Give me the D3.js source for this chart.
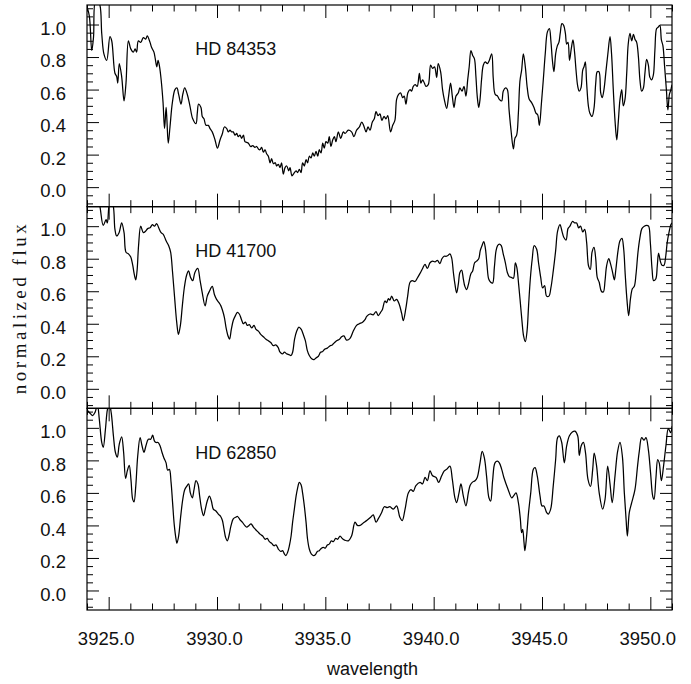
<!DOCTYPE html>
<html>
<head>
<meta charset="utf-8">
<script src="https://cdn.jsdelivr.net/npm/d3@7"></script>
<style>
  body { margin: 0; background: #fff; }
  svg { display: block; }
  .tick line { stroke: #000; }
</style>
</head>
<body>
<div id="chart"></div>
<script>
// star names, one per panel (top to bottom)
const stars = ["HD 84353", "HD 41700", "HD 62850"];

// tick values
const xMajorTicks = [3925, 3930, 3935, 3940, 3945, 3950];
const yMajorTicks = [0.0, 0.2, 0.4, 0.6, 0.8, 1.0];

// spectra: [wavelength, normalized flux]
const hd84353 = [[3924.00,1.11],[3924.11,1.05],[3924.22,0.84],[3924.30,0.92],[3924.40,1.15],[3924.57,1.13],[3924.68,0.945],[3924.78,0.82],[3924.91,0.78],[3925.06,0.925],[3925.14,0.90],[3925.29,0.70],[3925.37,0.68],[3925.42,0.64],[3925.49,0.76],[3925.60,0.68],[3925.71,0.53],[3925.80,0.64],[3925.91,0.90],[3926.02,0.85],[3926.14,0.83],[3926.22,0.85],[3926.29,0.83],[3926.37,0.90],[3926.48,0.89],[3926.60,0.92],[3926.71,0.91],[3926.78,0.93],[3926.91,0.89],[3926.98,0.86],[3927.09,0.83],[3927.15,0.79],[3927.22,0.74],[3927.28,0.78],[3927.35,0.74],[3927.43,0.65],[3927.51,0.52],[3927.58,0.36],[3927.65,0.49],[3927.69,0.41],[3927.75,0.27],[3927.83,0.37],[3927.94,0.52],[3928.06,0.60],[3928.15,0.61],[3928.23,0.57],[3928.34,0.51],[3928.42,0.57],[3928.51,0.61],[3928.63,0.57],[3928.75,0.50],[3928.88,0.42],[3929.03,0.39],[3929.09,0.455],[3929.15,0.51],[3929.26,0.49],[3929.32,0.435],[3929.40,0.42],[3929.49,0.38],[3929.60,0.38],[3929.68,0.36],[3929.78,0.34],[3929.91,0.29],[3930.02,0.24],[3930.14,0.29],[3930.25,0.33],[3930.34,0.37],[3930.45,0.36],[3930.52,0.34],[3930.60,0.35],[3930.68,0.34],[3930.75,0.34],[3930.83,0.32],[3930.91,0.33],[3930.98,0.31],[3931.06,0.32],[3931.14,0.30],[3931.22,0.32],[3931.29,0.28],[3931.37,0.275],[3931.45,0.27],[3931.55,0.25],[3931.65,0.255],[3931.75,0.245],[3931.83,0.25],[3931.91,0.235],[3931.98,0.23],[3932.06,0.245],[3932.14,0.215],[3932.22,0.23],[3932.29,0.205],[3932.37,0.19],[3932.45,0.15],[3932.52,0.175],[3932.60,0.145],[3932.69,0.15],[3932.75,0.13],[3932.83,0.14],[3932.91,0.12],[3932.98,0.15],[3933.06,0.08],[3933.14,0.12],[3933.22,0.13],[3933.31,0.10],[3933.37,0.12],[3933.46,0.07],[3933.55,0.085],[3933.65,0.10],[3933.72,0.09],[3933.80,0.11],[3933.88,0.09],[3933.95,0.15],[3934.03,0.13],[3934.11,0.17],[3934.18,0.15],[3934.26,0.19],[3934.34,0.18],[3934.42,0.21],[3934.49,0.19],[3934.57,0.22],[3934.65,0.19],[3934.72,0.23],[3934.80,0.21],[3934.88,0.27],[3934.95,0.24],[3935.03,0.28],[3935.11,0.27],[3935.18,0.31],[3935.26,0.25],[3935.34,0.29],[3935.42,0.31],[3935.49,0.28],[3935.60,0.34],[3935.71,0.30],[3935.83,0.34],[3935.91,0.33],[3936.06,0.35],[3936.21,0.34],[3936.32,0.31],[3936.44,0.35],[3936.57,0.37],[3936.68,0.40],[3936.78,0.375],[3936.88,0.34],[3936.97,0.37],[3937.06,0.35],[3937.17,0.40],[3937.26,0.42],[3937.34,0.465],[3937.43,0.44],[3937.52,0.45],[3937.61,0.41],[3937.71,0.435],[3937.80,0.42],[3937.88,0.44],[3938.01,0.34],[3938.11,0.38],[3938.21,0.41],[3938.29,0.54],[3938.38,0.57],[3938.47,0.58],[3938.57,0.55],[3938.64,0.56],[3938.72,0.51],[3938.81,0.58],[3938.91,0.60],[3938.98,0.59],[3939.06,0.62],[3939.15,0.63],[3939.24,0.62],[3939.34,0.70],[3939.41,0.64],[3939.49,0.66],[3939.57,0.64],[3939.64,0.62],[3939.75,0.63],[3939.86,0.75],[3939.95,0.73],[3940.04,0.74],[3940.14,0.675],[3940.21,0.76],[3940.32,0.71],[3940.41,0.60],[3940.49,0.54],[3940.60,0.485],[3940.69,0.56],[3940.78,0.64],[3940.86,0.56],[3940.94,0.49],[3941.03,0.56],[3941.14,0.58],[3941.21,0.61],[3941.31,0.59],[3941.40,0.62],[3941.49,0.56],[3941.57,0.66],[3941.64,0.74],[3941.72,0.84],[3941.80,0.81],[3941.88,0.79],[3941.95,0.68],[3942.01,0.56],[3942.08,0.49],[3942.14,0.54],[3942.21,0.66],[3942.29,0.75],[3942.38,0.77],[3942.48,0.76],[3942.57,0.78],[3942.68,0.82],[3942.75,0.67],[3942.84,0.57],[3942.95,0.56],[3943.03,0.54],[3943.14,0.53],[3943.21,0.59],[3943.32,0.61],[3943.40,0.60],[3943.48,0.475],[3943.57,0.35],[3943.68,0.235],[3943.75,0.30],[3943.83,0.32],[3943.91,0.455],[3943.98,0.65],[3944.06,0.72],[3944.14,0.82],[3944.23,0.74],[3944.32,0.61],[3944.41,0.54],[3944.52,0.52],[3944.63,0.49],[3944.72,0.455],[3944.80,0.445],[3944.88,0.38],[3944.97,0.51],[3945.06,0.66],[3945.15,0.82],[3945.25,0.955],[3945.34,0.975],[3945.41,0.90],[3945.48,0.78],[3945.55,0.71],[3945.63,0.82],[3945.71,0.87],[3945.78,0.89],[3945.84,0.945],[3945.92,1.005],[3946.00,0.995],[3946.08,0.945],[3946.14,0.88],[3946.20,0.89],[3946.27,0.78],[3946.35,0.85],[3946.43,0.905],[3946.51,0.82],[3946.57,0.72],[3946.65,0.62],[3946.72,0.59],[3946.80,0.61],[3946.88,0.72],[3946.94,0.74],[3947.00,0.77],[3947.06,0.64],[3947.14,0.50],[3947.21,0.455],[3947.31,0.435],[3947.40,0.485],[3947.48,0.64],[3947.55,0.71],[3947.63,0.71],[3947.71,0.58],[3947.78,0.55],[3947.86,0.60],[3947.95,0.71],[3948.04,0.82],[3948.14,0.925],[3948.21,0.82],[3948.29,0.60],[3948.37,0.41],[3948.45,0.29],[3948.52,0.40],[3948.60,0.54],[3948.68,0.60],[3948.75,0.50],[3948.83,0.54],[3948.91,0.70],[3948.98,0.88],[3949.06,0.945],[3949.14,0.90],[3949.22,0.94],[3949.29,0.91],[3949.37,0.89],[3949.45,0.80],[3949.52,0.66],[3949.60,0.59],[3949.68,0.61],[3949.75,0.70],[3949.83,0.785],[3949.91,0.75],[3949.98,0.675],[3950.06,0.66],[3950.14,0.69],[3950.21,0.84],[3950.29,0.975],[3950.37,0.985],[3950.44,0.995],[3950.51,0.905],[3950.58,0.87],[3950.66,0.74],[3950.74,0.60],[3950.81,0.475],[3950.88,0.57],[3950.95,0.60],[3951.00,0.63]];

const hd41700 = [[3924.00,1.20],[3924.30,1.25],[3924.57,1.14],[3924.75,1.005],[3924.88,1.04],[3924.94,1.02],[3925.06,1.15],[3925.18,1.14],[3925.29,0.98],[3925.37,0.94],[3925.48,0.96],[3925.60,1.02],[3925.71,0.96],[3925.80,0.84],[3925.91,0.83],[3926.02,0.81],[3926.11,0.76],[3926.18,0.705],[3926.25,0.67],[3926.31,0.725],[3926.38,0.88],[3926.48,1.00],[3926.60,0.96],[3926.71,0.97],[3926.80,0.985],[3926.91,0.99],[3927.02,1.01],[3927.11,1.00],[3927.22,1.015],[3927.31,0.99],[3927.42,0.96],[3927.52,0.95],[3927.65,0.91],[3927.77,0.88],[3927.86,0.84],[3927.95,0.715],[3928.05,0.55],[3928.14,0.41],[3928.22,0.335],[3928.31,0.39],[3928.40,0.51],[3928.49,0.62],[3928.60,0.70],[3928.69,0.725],[3928.78,0.685],[3928.88,0.665],[3928.98,0.715],[3929.11,0.74],[3929.22,0.665],[3929.32,0.59],[3929.45,0.51],[3929.55,0.57],[3929.65,0.60],[3929.78,0.63],[3929.88,0.58],[3929.98,0.55],[3930.09,0.53],[3930.18,0.51],[3930.26,0.48],[3930.34,0.44],[3930.42,0.375],[3930.51,0.325],[3930.58,0.305],[3930.66,0.365],[3930.75,0.42],[3930.85,0.45],[3930.94,0.47],[3931.03,0.46],[3931.12,0.43],[3931.22,0.40],[3931.31,0.41],[3931.40,0.39],[3931.49,0.395],[3931.60,0.375],[3931.71,0.39],[3931.80,0.365],[3931.91,0.355],[3932.02,0.335],[3932.14,0.32],[3932.26,0.305],[3932.37,0.295],[3932.48,0.285],[3932.60,0.265],[3932.71,0.27],[3932.82,0.255],[3932.91,0.225],[3933.02,0.215],[3933.11,0.225],[3933.22,0.215],[3933.32,0.21],[3933.42,0.205],[3933.49,0.225],[3933.58,0.305],[3933.68,0.355],[3933.78,0.38],[3933.89,0.365],[3933.98,0.335],[3934.08,0.295],[3934.17,0.235],[3934.26,0.205],[3934.37,0.185],[3934.48,0.18],[3934.57,0.19],[3934.68,0.20],[3934.78,0.225],[3934.88,0.23],[3934.98,0.245],[3935.09,0.25],[3935.22,0.265],[3935.32,0.27],[3935.43,0.285],[3935.52,0.295],[3935.65,0.305],[3935.75,0.32],[3935.86,0.325],[3935.98,0.30],[3936.14,0.31],[3936.29,0.355],[3936.44,0.39],[3936.57,0.40],[3936.72,0.41],[3936.83,0.425],[3936.91,0.445],[3937.06,0.46],[3937.21,0.455],[3937.34,0.475],[3937.44,0.45],[3937.55,0.47],[3937.64,0.49],[3937.75,0.54],[3937.83,0.53],[3937.91,0.555],[3937.98,0.545],[3938.06,0.57],[3938.18,0.54],[3938.29,0.55],[3938.41,0.52],[3938.52,0.465],[3938.60,0.42],[3938.71,0.49],[3938.80,0.57],[3938.91,0.655],[3939.01,0.665],[3939.14,0.66],[3939.24,0.68],[3939.37,0.71],[3939.49,0.74],[3939.60,0.765],[3939.71,0.74],[3939.83,0.775],[3939.95,0.785],[3940.06,0.78],[3940.17,0.79],[3940.29,0.77],[3940.38,0.80],[3940.48,0.815],[3940.57,0.815],[3940.66,0.82],[3940.75,0.83],[3940.83,0.805],[3940.91,0.715],[3940.98,0.645],[3941.06,0.59],[3941.14,0.645],[3941.21,0.715],[3941.29,0.73],[3941.37,0.675],[3941.44,0.63],[3941.52,0.61],[3941.61,0.645],[3941.71,0.705],[3941.80,0.725],[3941.89,0.775],[3941.98,0.785],[3942.08,0.80],[3942.15,0.85],[3942.23,0.88],[3942.31,0.905],[3942.38,0.87],[3942.46,0.765],[3942.54,0.675],[3942.63,0.655],[3942.72,0.65],[3942.80,0.745],[3942.88,0.85],[3942.95,0.88],[3943.03,0.89],[3943.12,0.88],[3943.21,0.83],[3943.31,0.775],[3943.40,0.715],[3943.49,0.69],[3943.58,0.685],[3943.68,0.68],[3943.77,0.775],[3943.84,0.745],[3943.92,0.645],[3944.00,0.53],[3944.08,0.41],[3944.15,0.325],[3944.23,0.29],[3944.31,0.355],[3944.38,0.51],[3944.46,0.675],[3944.55,0.80],[3944.64,0.88],[3944.75,0.86],[3944.84,0.775],[3944.94,0.685],[3945.03,0.62],[3945.12,0.635],[3945.21,0.57],[3945.32,0.57],[3945.41,0.62],[3945.52,0.725],[3945.63,0.85],[3945.72,0.97],[3945.83,1.01],[3945.92,0.97],[3946.01,0.93],[3946.11,0.915],[3946.20,0.985],[3946.29,1.00],[3946.41,1.03],[3946.51,1.02],[3946.60,1.02],[3946.69,0.99],[3946.78,1.00],[3946.88,0.965],[3946.97,0.98],[3947.06,0.90],[3947.15,0.755],[3947.23,0.735],[3947.31,0.84],[3947.40,0.87],[3947.48,0.80],[3947.55,0.685],[3947.64,0.655],[3947.74,0.60],[3947.83,0.595],[3947.91,0.665],[3947.98,0.755],[3948.08,0.80],[3948.17,0.765],[3948.26,0.715],[3948.34,0.67],[3948.41,0.735],[3948.51,0.85],[3948.60,0.91],[3948.69,0.925],[3948.77,0.86],[3948.84,0.705],[3948.92,0.55],[3949.00,0.45],[3949.08,0.55],[3949.17,0.615],[3949.26,0.63],[3949.34,0.705],[3949.43,0.84],[3949.52,0.93],[3949.61,0.985],[3949.72,1.00],[3949.83,1.005],[3949.92,1.00],[3950.00,0.90],[3950.08,0.735],[3950.15,0.665],[3950.25,0.675],[3950.32,0.755],[3950.38,0.835],[3950.46,0.785],[3950.54,0.76],[3950.63,0.76],[3950.71,0.815],[3950.78,0.90],[3950.86,0.96],[3950.95,1.01],[3951.00,1.02]];

const hd62850 = [[3924.00,1.11],[3924.14,1.09],[3924.26,1.075],[3924.37,1.095],[3924.48,1.14],[3924.57,1.05],[3924.68,0.91],[3924.75,0.88],[3924.85,0.99],[3924.94,1.11],[3925.03,1.15],[3925.12,1.09],[3925.22,0.95],[3925.31,0.85],[3925.40,0.82],[3925.49,0.90],[3925.60,0.945],[3925.69,0.85],[3925.78,0.69],[3925.86,0.735],[3925.95,0.77],[3926.03,0.68],[3926.11,0.56],[3926.17,0.545],[3926.25,0.64],[3926.34,0.825],[3926.45,0.94],[3926.54,0.89],[3926.63,0.85],[3926.72,0.89],[3926.83,0.93],[3926.94,0.93],[3927.03,0.955],[3927.11,0.92],[3927.18,0.91],[3927.28,0.91],[3927.37,0.89],[3927.46,0.85],[3927.55,0.815],[3927.65,0.785],[3927.72,0.74],[3927.80,0.745],[3927.88,0.665],[3927.95,0.54],[3928.03,0.40],[3928.11,0.315],[3928.15,0.29],[3928.23,0.335],[3928.32,0.45],[3928.42,0.56],[3928.51,0.62],[3928.60,0.64],[3928.69,0.655],[3928.77,0.60],[3928.86,0.57],[3928.94,0.62],[3929.03,0.675],[3929.12,0.655],[3929.20,0.58],[3929.29,0.50],[3929.38,0.46],[3929.46,0.50],[3929.55,0.55],[3929.65,0.58],[3929.74,0.55],[3929.83,0.50],[3929.94,0.49],[3930.06,0.47],[3930.17,0.455],[3930.25,0.43],[3930.32,0.38],[3930.40,0.325],[3930.48,0.305],[3930.55,0.335],[3930.65,0.40],[3930.75,0.44],[3930.86,0.45],[3930.95,0.455],[3931.06,0.435],[3931.17,0.42],[3931.28,0.40],[3931.37,0.39],[3931.48,0.40],[3931.57,0.41],[3931.68,0.39],[3931.78,0.375],[3931.89,0.36],[3932.00,0.345],[3932.11,0.335],[3932.22,0.315],[3932.32,0.32],[3932.42,0.30],[3932.52,0.29],[3932.63,0.275],[3932.72,0.28],[3932.83,0.255],[3932.94,0.24],[3933.03,0.245],[3933.11,0.225],[3933.18,0.215],[3933.26,0.235],[3933.34,0.275],[3933.42,0.335],[3933.49,0.42],[3933.57,0.50],[3933.65,0.58],[3933.72,0.63],[3933.80,0.665],[3933.88,0.65],[3933.95,0.60],[3934.03,0.52],[3934.11,0.42],[3934.18,0.315],[3934.26,0.255],[3934.35,0.225],[3934.45,0.215],[3934.54,0.22],[3934.63,0.24],[3934.72,0.245],[3934.82,0.26],[3934.91,0.265],[3935.00,0.26],[3935.09,0.28],[3935.18,0.285],[3935.28,0.305],[3935.37,0.30],[3935.48,0.32],[3935.57,0.315],[3935.68,0.335],[3935.78,0.32],[3935.89,0.31],[3936.06,0.305],[3936.21,0.335],[3936.37,0.42],[3936.48,0.40],[3936.60,0.40],[3936.75,0.415],[3936.91,0.43],[3937.09,0.45],[3937.21,0.465],[3937.34,0.42],[3937.44,0.44],[3937.60,0.48],[3937.72,0.515],[3937.86,0.51],[3937.98,0.515],[3938.14,0.50],[3938.29,0.52],[3938.44,0.45],[3938.55,0.43],[3938.68,0.50],[3938.83,0.60],[3938.95,0.62],[3939.06,0.61],[3939.18,0.645],[3939.37,0.665],[3939.49,0.655],[3939.60,0.695],[3939.71,0.675],[3939.83,0.735],[3939.95,0.705],[3940.11,0.695],[3940.23,0.665],[3940.37,0.705],[3940.49,0.735],[3940.60,0.745],[3940.75,0.765],[3940.86,0.685],[3940.98,0.57],[3941.06,0.54],[3941.17,0.60],[3941.26,0.655],[3941.37,0.58],[3941.49,0.52],[3941.60,0.60],[3941.68,0.645],[3941.78,0.665],[3941.91,0.675],[3942.01,0.695],[3942.14,0.785],[3942.24,0.855],[3942.34,0.815],[3942.44,0.705],[3942.55,0.57],[3942.63,0.55],[3942.72,0.675],[3942.83,0.785],[3942.94,0.795],[3943.03,0.785],[3943.14,0.745],[3943.24,0.695],[3943.44,0.62],[3943.60,0.57],[3943.68,0.58],[3943.80,0.60],[3943.91,0.54],[3944.00,0.44],[3944.06,0.355],[3944.11,0.375],[3944.17,0.295],[3944.21,0.245],[3944.29,0.335],[3944.38,0.48],[3944.48,0.60],[3944.60,0.745],[3944.68,0.755],[3944.78,0.705],[3944.91,0.58],[3945.00,0.52],[3945.09,0.52],[3945.21,0.48],[3945.29,0.47],[3945.40,0.50],[3945.52,0.645],[3945.63,0.805],[3945.72,0.94],[3945.80,0.95],[3945.91,0.91],[3946.03,0.785],[3946.14,0.89],[3946.26,0.95],[3946.40,0.975],[3946.52,0.98],[3946.65,0.95],[3946.72,0.83],[3946.81,0.89],[3946.91,0.91],[3947.01,0.845],[3947.12,0.685],[3947.24,0.64],[3947.34,0.745],[3947.41,0.845],[3947.52,0.765],[3947.64,0.60],[3947.80,0.50],[3947.91,0.56],[3948.03,0.765],[3948.14,0.655],[3948.24,0.54],[3948.37,0.705],[3948.49,0.855],[3948.60,0.91],[3948.71,0.825],[3948.80,0.60],[3948.88,0.44],[3948.94,0.335],[3949.03,0.48],[3949.14,0.54],[3949.29,0.62],[3949.41,0.765],[3949.49,0.855],[3949.60,0.94],[3949.71,0.925],[3949.80,0.94],[3949.91,0.865],[3950.01,0.725],[3950.11,0.58],[3950.17,0.56],[3950.26,0.695],[3950.34,0.805],[3950.41,0.785],[3950.51,0.675],[3950.61,0.765],[3950.72,0.89],[3950.83,0.995],[3950.94,0.97],[3951.00,1.01]];

const spectra = [hd84353, hd41700, hd62850];

const width = 691, height = 684;
const margin = {left: 87, right: 19, top: 5, bottom: 74};
const plotW = width - margin.left - margin.right;
const panelH = (height - margin.top - margin.bottom) / spectra.length;

const svg = d3.select("#chart").append("svg")
    .attr("width", width)
    .attr("height", height)
    .attr("font-family", "'Liberation Sans', Arial, Helvetica, sans-serif");

const x = d3.scaleLinear().domain([3924, 3951]).range([0, plotW]);
const y = d3.scaleLinear().domain([-0.12, 1.12]).range([panelH, 0]);

const xMinorTicks = d3.range(3924, 3952, 1).filter(v => !xMajorTicks.includes(v));
const yMinorTicks = d3.range(-2, 23).map(k => +(k * 0.05).toFixed(2))
    .filter(v => !yMajorTicks.some(m => Math.abs(m - v) < 1e-6));

const line = d3.line()
    .x(d => x(d[0]))
    .y(d => y(d[1]))
    .curve(d3.curveCatmullRom.alpha(0.5));

function tickAxis(g, axis, values, size) {
    g.call(axis.tickValues(values).tickSize(-size).tickSizeOuter(0).tickFormat(""));
    g.select(".domain").remove();
    g.selectAll(".tick line").attr("stroke", "#000").attr("stroke-width", 1);
}

spectra.forEach(function (spec, i) {
    let panel = svg.append("g")
        .attr("transform", `translate(${margin.left},${margin.top + i * panelH})`);

    panel.append("clipPath").attr("id", "clip" + i)
        .append("rect").attr("width", plotW).attr("height", panelH);

    panel.append("path")
        .datum(spec)
        .attr("clip-path", `url(#clip${i})`)
        .attr("fill", "none")
        .attr("stroke", "#000")
        .attr("stroke-width", 1.25)
        .attr("stroke-linejoin", "round")
        .attr("d", line);

    // minor and major ticks on all four sides, pointing inward
    tickAxis(panel.append("g"), d3.axisLeft(y), yMinorTicks, 6);
    tickAxis(panel.append("g"), d3.axisLeft(y), yMajorTicks, 12);
    tickAxis(panel.append("g").attr("transform", `translate(${plotW},0)`), d3.axisRight(y), yMinorTicks, 6);
    tickAxis(panel.append("g").attr("transform", `translate(${plotW},0)`), d3.axisRight(y), yMajorTicks, 12);
    tickAxis(panel.append("g"), d3.axisTop(x), xMinorTicks, 6.5);
    tickAxis(panel.append("g"), d3.axisTop(x), xMajorTicks, 13);
    tickAxis(panel.append("g").attr("transform", `translate(0,${panelH})`), d3.axisBottom(x), xMinorTicks, 6.5);
    tickAxis(panel.append("g").attr("transform", `translate(0,${panelH})`), d3.axisBottom(x), xMajorTicks, 13);

    // y tick labels
    let yLab = panel.append("g")
        .call(d3.axisLeft(y).tickValues(yMajorTicks).tickSize(0).tickPadding(21).tickFormat(d3.format(".1f")));
    yLab.select(".domain").remove();
    yLab.attr("font-size", 18.5).attr("font-family", null);
    yLab.selectAll("text").attr("fill", "#111").attr("dy", "0.52em");

    panel.append("rect")
        .attr("width", plotW)
        .attr("height", panelH)
        .attr("fill", "none")
        .attr("stroke", "#000")
        .attr("stroke-width", 1.2);

    panel.append("text")
        .attr("x", x(3929.0))
        .attr("y", y(0.81))
        .attr("font-size", 18)
        .attr("fill", "#111")
        .text(stars[i]);

    if (i === spectra.length - 1) {
        let xLab = panel.append("g")
            .attr("transform", `translate(0,${panelH})`)
            .call(d3.axisBottom(x).tickValues(xMajorTicks).tickSize(0).tickPadding(22).tickFormat(d3.format(".1f")));
        xLab.select(".domain").remove();
        xLab.attr("font-size", 18.5).attr("font-family", null);
        xLab.selectAll("text").attr("fill", "#111").attr("dx", -3);
    }
});

svg.append("text")
    .attr("x", margin.left + plotW / 2 - 7)
    .attr("y", 675)
    .attr("text-anchor", "middle")
    .attr("font-size", 18)
    .attr("fill", "#111")
    .text("wavelength");

svg.append("text")
    .attr("transform", `translate(26,${margin.top + 1.5 * panelH}) rotate(-90)`)
    .attr("text-anchor", "middle")
    .attr("font-family", "'Liberation Serif', 'Times New Roman', serif")
    .attr("font-size", 19)
    .attr("letter-spacing", "3.5px")
    .attr("fill", "#111")
    .text("normalized flux");
</script>
</body>
</html>
